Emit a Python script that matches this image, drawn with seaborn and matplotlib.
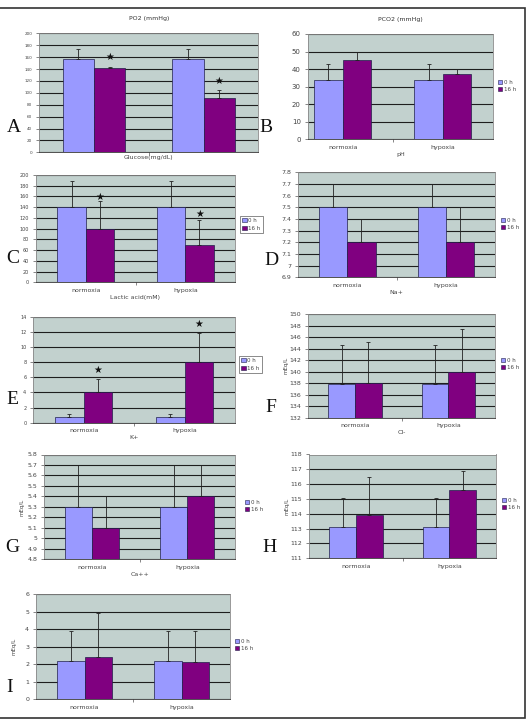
import numpy as np
import pandas as pd
import seaborn as sns
import matplotlib.pyplot as plt
from matplotlib.patches import Patch, Rectangle

W, H = 529, 721

# --- data ---
groups = ["normoxia", "hypoxia"]
times = ["0 h", "16 h"]

po2_0h = [157, 157]
po2_16h = [141, 91]
po2_err_0h = [17, 17]
po2_err_16h = [3, 14]
po2_star = [161, 120]

pco2_0h = [34, 34]
pco2_16h = [45, 37]
pco2_err_0h = [9, 9]
pco2_err_16h = [4.5, 3]

ph_0h = [141, 141]
ph_16h = [100, 70]
ph_err_0h = [47, 47]
ph_err_16h = [51, 46]
ph_star = [159, 127]

lac_0h = [7.5, 7.5]
lac_16h = [7.2, 7.2]
lac_err_0h = [0.2, 0.2]
lac_err_16h = [0.2, 0.3]

na_0h = [0.7, 0.7]
na_16h = [4.1, 8.0]
na_err_0h = [0.45, 0.45]
na_err_16h = [1.7, 3.8]
na_star = [7.0, 13.0]

k_0h = [137.8, 137.8]
k_16h = [138.0, 140.0]
k_err_0h = [6.9, 6.9]
k_err_16h = [7.2, 7.4]

cl_0h = [5.3, 5.3]
cl_16h = [5.1, 5.4]
cl_err_0h = [0.4, 0.4]
cl_err_16h = [0.3, 0.3]

ca_0h = [113.1, 113.1]
ca_16h = [113.9, 115.6]
ca_err_0h = [2.0, 2.0]
ca_err_16h = [2.6, 1.3]

i_0h = [2.2, 2.2]
i_16h = [2.4, 2.1]
i_err_0h = [1.7, 1.7]
i_err_16h = [2.5, 1.8]

# panel letter, plot box (px), y range, tick step, values, errors, stars,
# title, xlabel, ylabel, show category labels, legend (x, y, framed), xlim, tick font size
panels = [
    ("A", (39.3, 33.3, 258.3, 152.3), (0, 200), 20, po2_0h, po2_16h, po2_err_0h, po2_err_16h, po2_star,
     "PO2 (mmHg)", "Glucose(mg/dL)", None, False, None, (-0.5, 1.5), 3),
    ("B", (307.7, 34, 493, 139.3), (0, 60), 10, pco2_0h, pco2_16h, pco2_err_0h, pco2_err_16h, None,
     "PCO2 (mmHg)", "pH", None, True, (497, 83, False), (-0.35, 1.5), 5),
    ("C", (36, 175, 235, 282.3), (0, 200), 20, ph_0h, ph_16h, ph_err_0h, ph_err_16h, ph_star,
     None, "Lactic acid(mM)", None, True, (240, 220, True), (-0.5, 1.5), 3.5),
    ("D", (298.3, 172.3, 495, 277.3), (6.9, 7.8), 0.1, lac_0h, lac_16h, lac_err_0h, lac_err_16h, None,
     None, "Na+", None, True, (500, 221, False), (-0.5, 1.5), 4.5),
    ("E", (33.3, 316.7, 235, 422.7), (0, 14), 2, na_0h, na_16h, na_err_0h, na_err_16h, na_star,
     None, "K+", None, True, (239, 360, True), (-0.5, 1.5), 3.5),
    ("F", (308.3, 314, 495, 417.7), (132, 150), 2, k_0h, k_16h, k_err_0h, k_err_16h, None,
     None, "Cl-", "mEq/L", True, (500, 361, False), (-0.5, 1.5), 4.5),
    ("G", (44.3, 454.5, 235, 559.3), (4.8, 5.8), 0.1, cl_0h, cl_16h, cl_err_0h, cl_err_16h, None,
     None, "Ca++", "mEq/L", True, (244, 503, False), (-0.5, 1.5), 4.5),
    ("H", (309.3, 454.5, 496, 558.3), (111, 118), 1, ca_0h, ca_16h, ca_err_0h, ca_err_16h, None,
     None, None, "mEq/L", True, (501, 501, False), (-0.5, 1.5), 4.5),
    ("I", (36, 594.3, 230, 699), (0, 6), 1, i_0h, i_16h, i_err_0h, i_err_16h, None,
     None, None, "mEq/L", True, (234, 642, False), (-0.5, 1.5), 4.5),
]

letter_pos = {"A": (14, 127), "B": (266, 128), "C": (13, 258), "D": (271, 260), "E": (12, 399),
              "F": (271, 408), "G": (12, 548), "H": (270, 548), "I": (10, 688)}

c0 = "#9999ff"
c16 = "#800080"
bg = "#c2d1ce"

sns.set_theme(style="white")
plt.rcParams["font.family"] = ["DejaVu Sans"]

fig = plt.figure(figsize=(W / 100, H / 100), dpi=100)

def fx(x):
    return x / W

def fy(y):
    return 1 - y / H

for (letter, box, ylim, step, v0, v16, e0, e16, stars, title, xlab, ylab,
     show_cats, leg, xlim, tfs) in panels:
    x0, y0, x1, y1 = box
    ax = fig.add_axes([fx(x0), fy(y1), (x1 - x0) / W, (y1 - y0) / H])
    df = pd.DataFrame({
        "group": groups * 2,
        "time": [times[0]] * 2 + [times[1]] * 2,
        "value": list(v0) + list(v16),
    })
    sns.barplot(data=df, x="group", y="value", hue="time", order=groups, hue_order=times,
                palette=[c0, c16], width=0.57, gap=0, edgecolor="#20204a", linewidth=0.5,
                errorbar=None, legend=False, saturation=1, ax=ax)
    errs = list(e0) + list(e16)
    for p, e in zip(ax.patches[:4], errs):
        xc = p.get_x() + p.get_width() / 2
        ax.errorbar(xc, p.get_height(), yerr=[[0], [e]], color="#222222", lw=0.6,
                    capsize=1.2, capthick=0.6, zorder=4)
    if stars is not None:
        for p, s in zip(ax.patches[2:4], stars):
            xc = p.get_x() + p.get_width() / 2
            ax.text(xc, s, "★", ha="center", va="center", fontsize=7, color="#111111", zorder=5)
    ax.set_facecolor(bg)
    ax.set_ylim(*ylim)
    ax.set_xlim(*xlim)
    ticks = np.round(np.arange(ylim[0], ylim[1] + step / 2, step), 3)
    ax.set_yticks(ticks)
    ax.set_yticklabels([f"{t:g}" for t in ticks])
    ax.yaxis.grid(True, color="#1e1e1e", lw=0.8)
    ax.set_axisbelow(True)
    ax.tick_params(axis="y", labelsize=tfs, length=2, width=0.5, pad=3, colors="#555555",
                   labelcolor="#444444", left=True)
    ax.tick_params(axis="x", labelsize=4.5, length=0, pad=4, labelcolor="#444444")
    ax.set_xticks([0.5], minor=True)
    ax.tick_params(axis="x", which="minor", length=2, width=0.5, color="#555555", bottom=True)
    if not show_cats:
        ax.set_xticklabels(["", ""])
    ax.set_xlabel("")
    ax.set_ylabel("")
    for s in ax.spines.values():
        s.set_color("#888888")
        s.set_linewidth(0.6)
    ax.spines["bottom"].set_color("#333333")

    if leg is not None:
        lx, ly, framed = leg
        handles = [Patch(facecolor=c0, edgecolor="#20204a", lw=0.4, label=times[0]),
                   Patch(facecolor=c16, edgecolor="#20204a", lw=0.4, label=times[1])]
        lg = fig.legend(handles=handles, loc="upper left", bbox_to_anchor=(fx(lx), fy(ly - 4)),
                        fontsize=4, handlelength=0.8, handleheight=0.8, handletextpad=0.3,
                        labelspacing=0.4, borderpad=0.4 if framed else 0.1, frameon=framed,
                        fancybox=False, borderaxespad=0)
        if framed:
            lg.get_frame().set_edgecolor("#333333")
            lg.get_frame().set_linewidth(0.5)
        for t in lg.get_texts():
            t.set_color("#444444")

    cx = (x0 + x1) / 2
    if title:
        fig.text(fx(cx), fy(y0 - 15), title, ha="center", va="center", fontsize=4.5, color="#333333")
    if xlab:
        off = 5 if not show_cats else 15
        fig.text(fx(cx), fy(y1 + off), xlab, ha="center", va="center", fontsize=4.5, color="#444444")
    if ylab:
        fig.text(fx(x0 - 22), fy((y0 + y1) / 2), ylab, ha="center", va="center", rotation=90,
                 fontsize=4, color="#444444")
    lpx, lpy = letter_pos[letter]
    fig.text(fx(lpx), fy(lpy), letter, ha="center", va="center", fontsize=14,
             family=["Liberation Serif", "DejaVu Serif"], color="#111111")

# outer frame
fig.patches.append(Rectangle((fx(-2), fy(718)), fx(527), (718 - 8) / H, transform=fig.transFigure,
                             fill=False, edgecolor="#333333", lw=1.2))

fig.savefig("out.png", dpi=100, facecolor="white")
